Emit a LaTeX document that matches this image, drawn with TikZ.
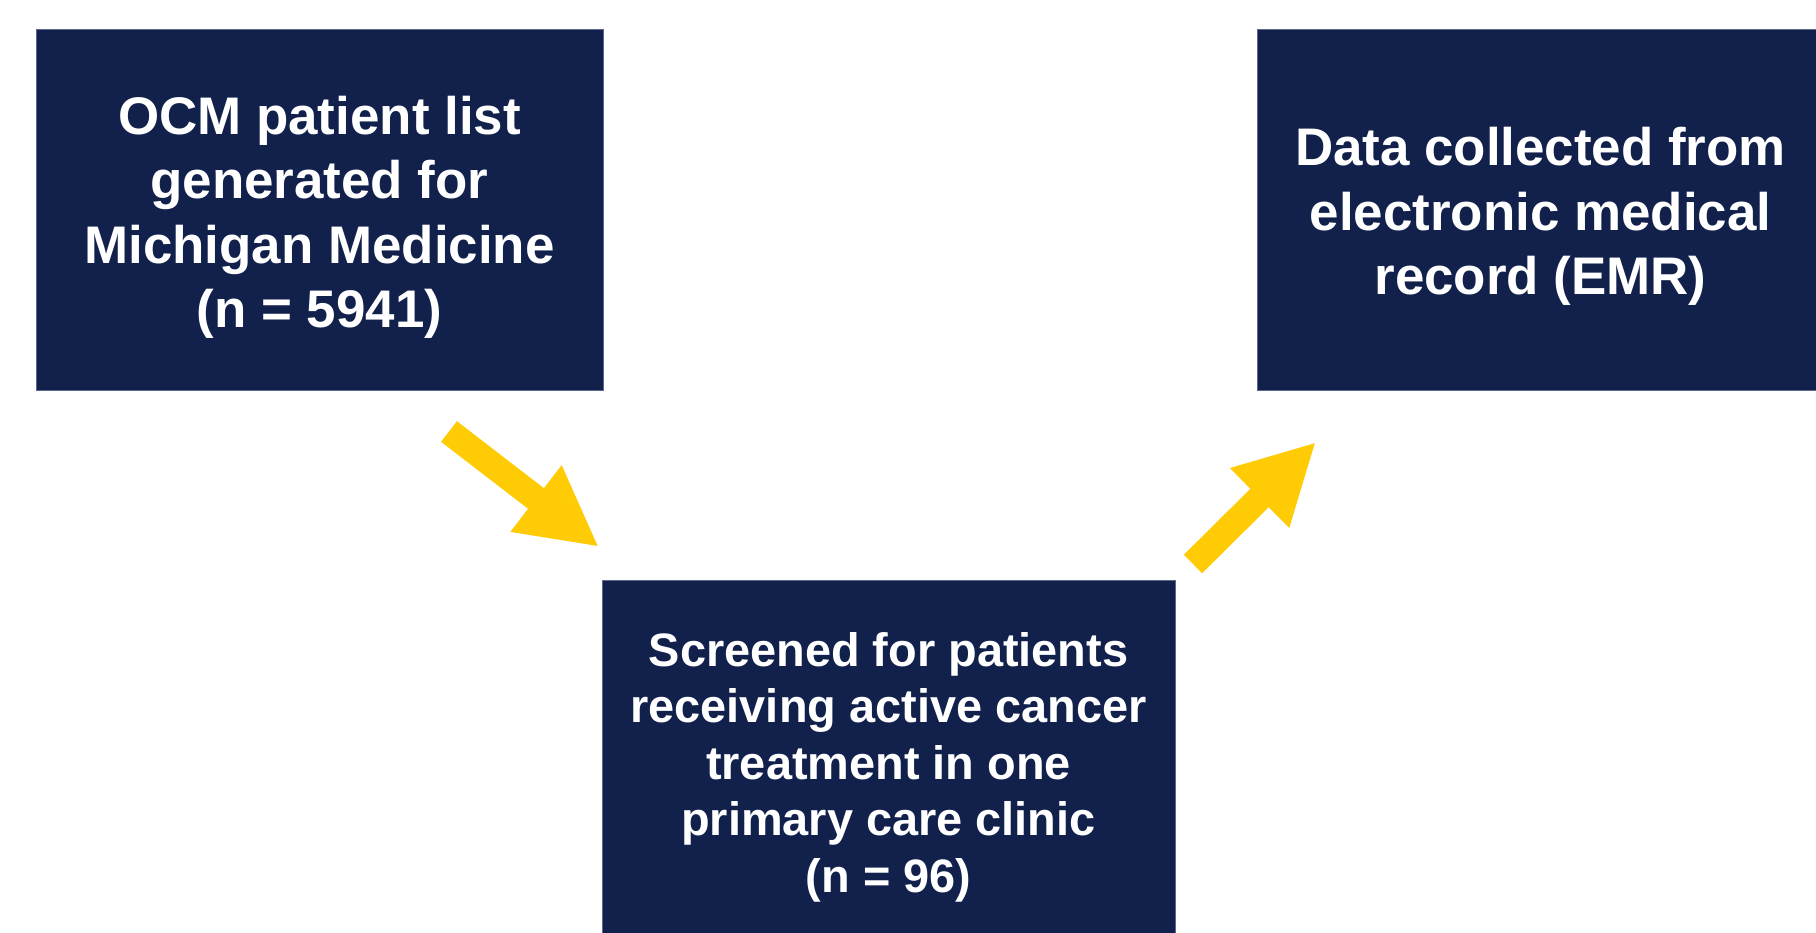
\documentclass[tikz,border=0pt]{standalone}
\usepackage{fontspec}
\setmainfont{Liberation Sans}
\usetikzlibrary{arrows.meta}
\definecolor{navy}{RGB}{18,33,76}
\definecolor{navyedge}{RGB}{90,105,140}
\definecolor{maize}{RGB}{255,203,5}
\begin{document}
\begin{tikzpicture}[x=1pt,y=-1pt,
  box/.style={fill=navy, draw=navyedge, line width=0.8pt, inner sep=0pt},
  boxtext/.style={text=white, align=center, inner sep=0pt},
  bigtext/.style={font=\fontsize{52.9pt}{64.5pt}\selectfont\bfseries},
  smalltext/.style={font=\fontsize{46.9pt}{56.5pt}\selectfont\bfseries},
  flow/.style={draw=maize, line width=26pt, -{Triangle[length=79.5pt,width=78pt]}}]
\useasboundingbox (0,0) rectangle (1816,933);
\clip (0,0) rectangle (1816,933);
\fill[white] (0,0) rectangle (1816,933);
\node[box, minimum width=567pt, minimum height=361pt] (list) at (319.5,209.5) {};
\node[boxtext, bigtext] (listtext) at ([yshift=-8pt]list.center)
  {OCM patient list\\generated for\\Michigan Medicine\\(n = 5941)};
\node[box, minimum width=573pt, minimum height=364pt] (screen) at (888.5,762) {};
\node[boxtext, smalltext] (screentext) at ([yshift=-5pt]screen.center)
  {Screened for patients\\receiving active cancer\\treatment in one\\primary care clinic\\(n = 96)};
\node[box, minimum width=567pt, minimum height=361pt] (emr) at (1540.5,209.5) {};
\node[boxtext, bigtext] (emrtext) at ([yshift=-7pt]emr.center)
  {Data collected from\\electronic medical\\record (EMR)};
\coordinate (a1s) at (449,431.5);
\coordinate (a1e) at (599,547);
\coordinate (a2s) at (1193,564);
\coordinate (a2e) at (1316,442);
\draw[flow] (a1s) -- (a1e);
\draw[flow] (a2s) -- (a2e);
\end{tikzpicture}
\end{document}
